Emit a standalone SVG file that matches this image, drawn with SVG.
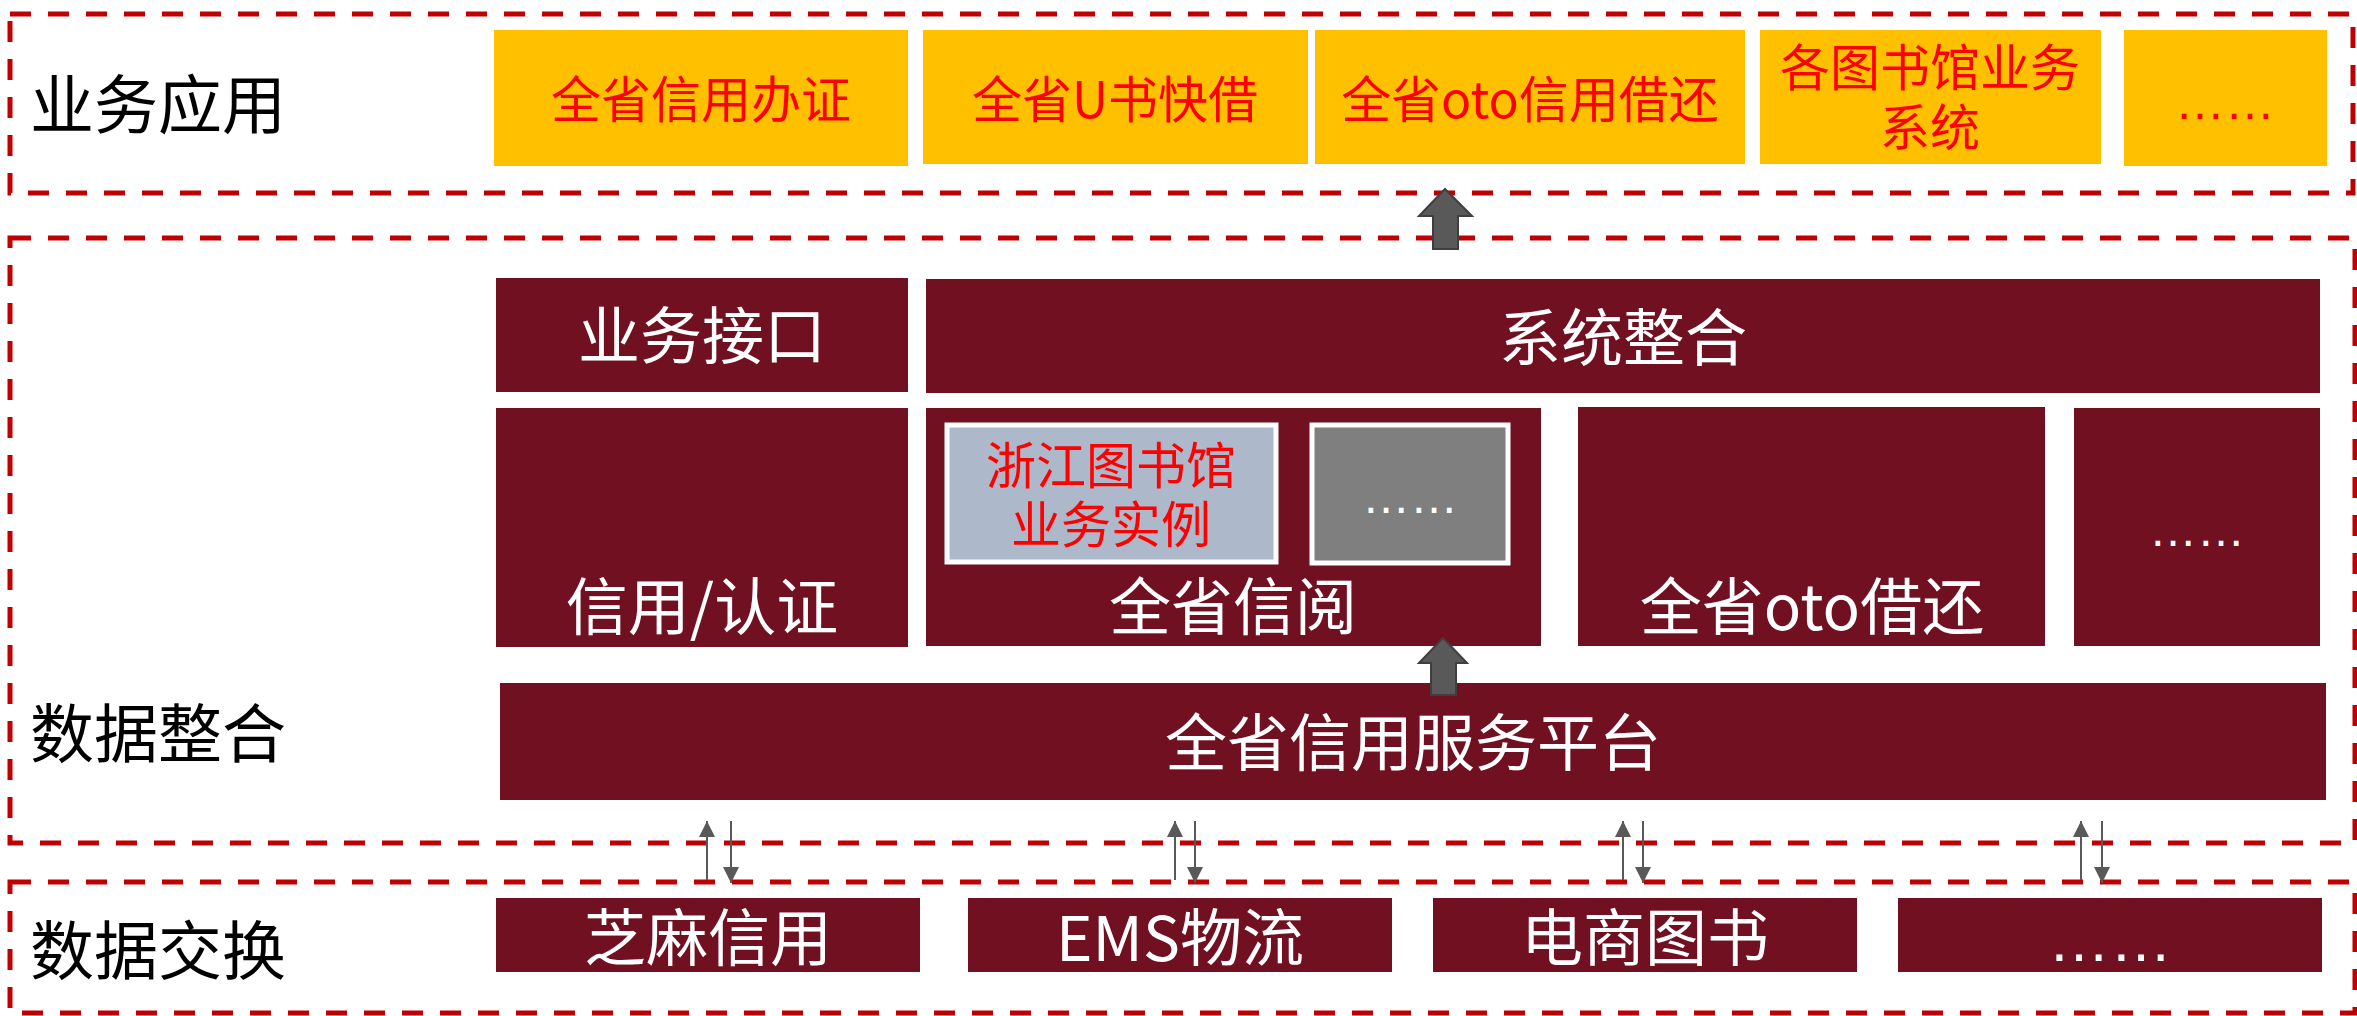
<svg xmlns="http://www.w3.org/2000/svg" width="2357" height="1016" viewBox="0 0 2357 1016">
<defs>
<style>
.zone{fill:none;stroke:#C00000;stroke-width:5;stroke-dasharray:21 17}
.dk{fill:#701020}
.yl{fill:#FFC000}
.lbl{font-family:"Noto Sans CJK SC","Noto Sans",sans-serif;font-size:64px;fill:#000}
.w{font-family:"Noto Sans CJK SC","Noto Sans",sans-serif;font-size:62px;fill:#fff;text-anchor:middle}
.r{font-family:"Noto Sans CJK SC","Noto Sans",sans-serif;font-size:50px;fill:#FF0000;text-anchor:middle}
.dots{font-family:"Liberation Sans",sans-serif;text-anchor:middle}
.thin{stroke:#595959;stroke-width:2;fill:none}
.big{fill:#595959;stroke:#3f3f3f;stroke-width:2}
</style>
<marker id="ah" viewBox="0 0 16 16" refX="16" refY="8" markerWidth="16" markerHeight="16" markerUnits="userSpaceOnUse" orient="auto">
<path d="M0,0 L16,8 L0,16 z" fill="#595959"/>
</marker>
</defs>
<g id="zones">
<rect class="zone" x="10" y="14" width="2343" height="179"/>
<rect class="zone" x="10" y="238" width="2345" height="605"/>
<rect class="zone" x="10" y="882" width="2345" height="131"/>
<text class="lbl" x="30" y="128">业务应用</text>
<text class="lbl" x="30" y="757">数据整合</text>
<text class="lbl" x="30" y="974">数据交换</text>
</g>
<g id="app1"><rect class="yl" x="494" y="30" width="414" height="136"/><text class="r" x="701" y="118">全省信用办证</text></g>
<g id="app2"><rect class="yl" x="923" y="30" width="385" height="134"/><text class="r" x="1115" y="118">全省U书快借</text></g>
<g id="app3"><rect class="yl" x="1315" y="30" width="430" height="134"/><text class="r" x="1530" y="118">全省oto信用借还</text></g>
<g id="app4"><rect class="yl" x="1760" y="30" width="341" height="134"/><text class="r" x="1930" y="86">各图书馆业务<tspan x="1930" dy="60">系统</tspan></text></g>
<g id="app5"><rect class="yl" x="2124" y="30" width="203" height="136"/><text class="dots" x="2225" y="119" font-size="50" fill="#FF0000">……</text></g>
<g id="bizif"><rect class="dk" x="496" y="278" width="412" height="114"/><text class="w" x="702" y="359">业务接口</text></g>
<g id="sysint"><rect class="dk" x="926" y="279" width="1394" height="114"/><text class="w" x="1623" y="361">系统整合</text></g>
<g id="credit"><rect class="dk" x="496" y="408" width="412" height="239"/><text class="w" x="702" y="630">信用/认证</text></g>
<g id="xinyue"><rect class="dk" x="926" y="408" width="615" height="238"/><text class="w" x="1233" y="630">全省信阅</text></g>
<g id="zjlib"><rect x="947" y="425" width="329" height="137" fill="#ADB9CA" stroke="#fff" stroke-width="5"/><text class="r" x="1111" y="484">浙江图书馆<tspan x="1111" dy="59">业务实例</tspan></text></g>
<g id="more1"><rect x="1312" y="425" width="196" height="138" fill="#7F7F7F" stroke="#fff" stroke-width="5"/><text class="dots" x="1410" y="513" font-size="48" fill="#fff">……</text></g>
<g id="oto"><rect class="dk" x="1578" y="407" width="467" height="239"/><text class="w" x="1812" y="630">全省oto借还</text></g>
<g id="more2"><rect class="dk" x="2074" y="408" width="246" height="238"/><text class="dots" x="2197" y="546" font-size="48" fill="#fff">……</text></g>
<g id="platform"><rect class="dk" x="500" y="683" width="1826" height="117"/><text class="w" x="1413" y="766" font-size="64">全省信用服务平台</text></g>
<g id="zhima"><rect class="dk" x="496" y="898" width="424" height="74"/><text class="w" x="708" y="961">芝麻信用</text></g>
<g id="ems"><rect class="dk" x="968" y="898" width="424" height="74"/><text class="w" x="1180" y="961">EMS物流</text></g>
<g id="ebook"><rect class="dk" x="1433" y="898" width="424" height="74"/><text class="w" x="1645" y="961">电商图书</text></g>
<g id="more3"><rect class="dk" x="1898" y="898" width="424" height="74"/><text class="dots" x="2110" y="961" font-size="62" fill="#fff">……</text></g>
<g id="connectors">
<polygon class="big" points="1445,189 1472,216 1458,216 1458,249 1433,249 1433,216 1419,216"/>
<polygon class="big" points="1443,638 1467,663 1456,663 1456,695 1431,695 1431,663 1419,663"/>
<line class="thin" x1="707" y1="880" x2="707" y2="821" marker-end="url(#ah)"/>
<line class="thin" x1="731" y1="821" x2="731" y2="883" marker-end="url(#ah)"/>
<line class="thin" x1="1175" y1="880" x2="1175" y2="821" marker-end="url(#ah)"/>
<line class="thin" x1="1195" y1="821" x2="1195" y2="883" marker-end="url(#ah)"/>
<line class="thin" x1="1623" y1="880" x2="1623" y2="821" marker-end="url(#ah)"/>
<line class="thin" x1="1643" y1="821" x2="1643" y2="883" marker-end="url(#ah)"/>
<line class="thin" x1="2081" y1="880" x2="2081" y2="821" marker-end="url(#ah)"/>
<line class="thin" x1="2102" y1="821" x2="2102" y2="883" marker-end="url(#ah)"/>
</g>
</svg>
